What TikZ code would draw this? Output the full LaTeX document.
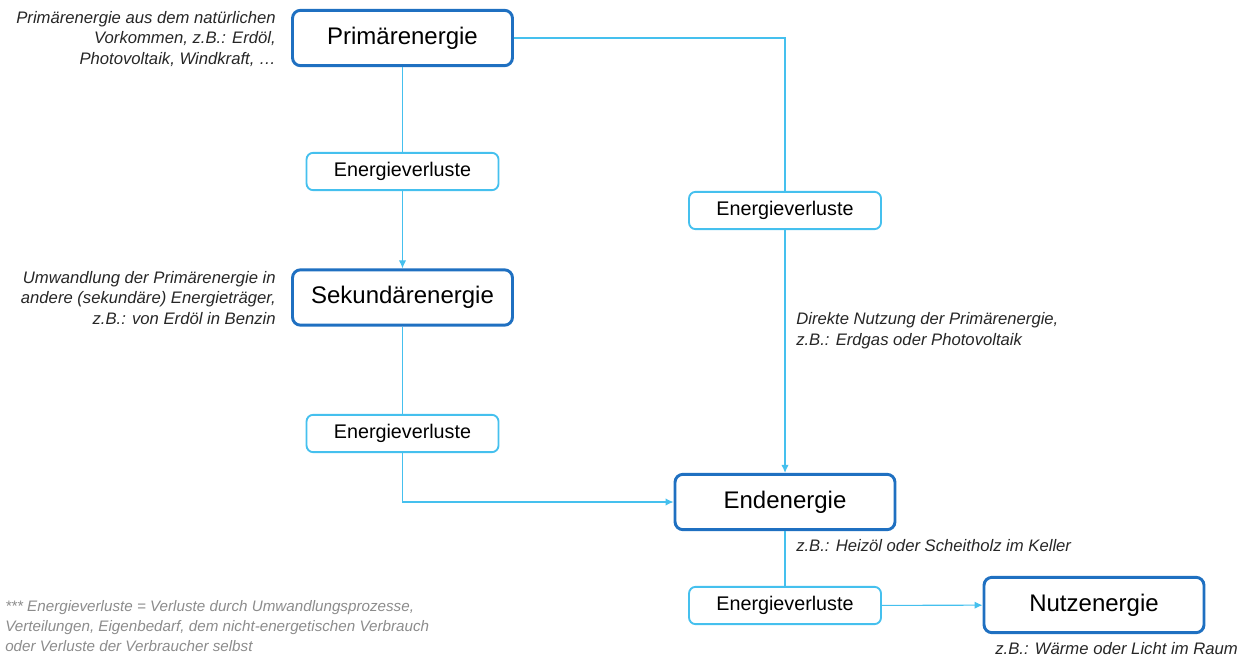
\documentclass[tikz,border=0pt]{standalone}
\usepackage{fontspec}
\setmainfont{Liberation Sans}
\usetikzlibrary{positioning,arrows.meta}
\definecolor{dunkelblau}{HTML}{1F70C1}
\definecolor{hellblau}{HTML}{45C0EE}
\definecolor{grautext}{HTML}{8C8C8C}
\tikzset{
    hauptbox/.style={draw=dunkelblau,line width=2.2pt,rounded corners=6pt,minimum width=165pt,minimum height=41.5pt,fill=white,font=\fontsize{18}{20}\selectfont},
    verlustbox/.style={draw=hellblau,line width=1.4pt,rounded corners=5pt,minimum width=144pt,minimum height=28pt,fill=white,font=\fontsize{14.8}{16}\selectfont},
    pfeil/.style={hellblau,line width=0.8pt},
    spitze/.style={-{Latex[length=6pt,width=5.5pt]}},
    notiz/.style={inner sep=0pt,text=black!85,font=\fontsize{12.5}{15.5}\selectfont\itshape}
}
\begin{document}
\begin{tikzpicture}[x=0.75pt,y=-0.75pt]
\useasboundingbox (0,0) rectangle (1251,659);

\node[hauptbox] (primaer) at (402.5,38) {Primärenergie};
\node[hauptbox] (sekundaer) at (402.5,297.5) {Sekundärenergie};
\node[hauptbox] (ende) at (785,502) {Endenergie};
\node[hauptbox] (nutz) at (1094,605) {Nutzenergie};

\foreach \n/\x/\y in
{verlustA/402.5/171.5,
    verlustB/785/210.5,
    verlustC/402.5/433.5,
    verlustD/785/605.5}
{
    \node[verlustbox] (\n) at (\x,\y) {Energieverluste};
};

\draw[pfeil] (primaer) -- (verlustA);
\draw[pfeil,spitze] (verlustA) -- (sekundaer);
\draw[pfeil] (primaer.east) -| (verlustB);
\draw[pfeil,spitze] (verlustB) -- (ende);
\draw[pfeil] (sekundaer) -- (verlustC);
\draw[pfeil,spitze] (verlustC) |- (ende);
\draw[pfeil] (ende) -- (verlustD);
\draw[pfeil,spitze] (verlustD) -- (nutz);

% Erlaeuterungen
\node[notiz,anchor=east,align=right] (notizPrimaer) at (276,39)
    {Primärenergie aus dem natürlichen\\Vorkommen, z.B.: Erdöl,\\Photovoltaik, Windkraft, …};
\node[notiz,anchor=east,align=right] (notizSekundaer) at (276,298)
    {Umwandlung der Primärenergie in\\andere (sekundäre) Energieträger,\\z.B.: von Erdöl in Benzin};
\node[notiz,anchor=west,align=left] (notizDirekt) at (796,331)
    {Direkte Nutzung der Primärenergie,\\z.B.: Erdgas oder Photovoltaik};
\node[notiz,anchor=west] (notizEnde) at (796,546) {z.B.: Heizöl oder Scheitholz im Keller};
\node[notiz,anchor=east] (notizNutz) at (1238,649) {z.B.: Wärme oder Licht im Raum};
\node[notiz,anchor=west,align=left,text=grautext,font=\fontsize{11.4}{14.8}\selectfont\itshape] (fussnote) at (5,626)
    {*** Energieverluste = Verluste durch Umwandlungsprozesse,\\Verteilungen, Eigenbedarf, dem nicht-energetischen Verbrauch\\oder Verluste der Verbraucher selbst};
\end{tikzpicture}
\end{document}
